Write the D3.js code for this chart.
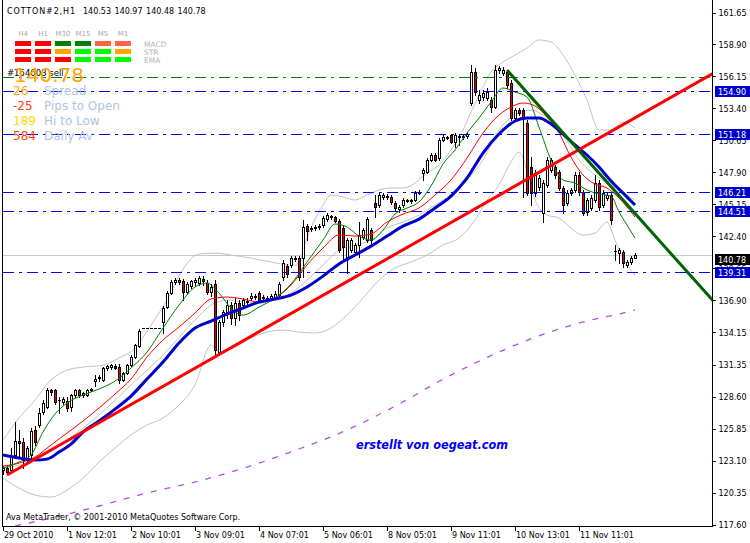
<!DOCTYPE html>
<html><head><meta charset="utf-8">
<script src="https://cdn.jsdelivr.net/npm/d3@7"></script>
<style>
body{margin:0;background:#fff}
svg{display:block}
text{font-family:"DejaVu Sans",sans-serif}
</style>
</head><body>
<svg id="c" width="750" height="543"></svg>
<script>
// ---------------- DATA ----------------
const symbolName = "COTTON#2,H1";
const headerOHLC = ["140.53", "140.97", "140.48", "140.78"];

const opens = [122.28,122.45,122.28,123.57,124.78,124.70,123.28,123.57,125.72,126.15,127.27,127.70,129.16,129.16,128.30,128.13,128.21,127.70,128.73,129.16,128.73,128.73,129.16,129.93,130.19,130.02,131.05,131.14,131.22,131.14,130.02,130.62,131.31,132.00,132.94,134.49,134.49,134.49,134.49,134.49,135.01,136.30,137.50,138.45,138.62,138.53,137.58,138.10,138.45,138.36,138.70,138.36,137.58,138.28,132.42,135.01,135.87,136.47,135.35,136.64,136.47,136.73,137.07,137.16,137.50,137.07,136.99,137.07,137.16,137.33,138.88,139.82,139.91,140.42,140.51,140.51,143.26,143.00,143.08,143.17,143.34,143.86,144.03,144.03,143.69,143.08,140.59,141.19,141.02,141.62,142.31,142.05,142.91,145.23,145.06,145.75,145.75,145.75,145.23,144.72,145.06,145.40,145.49,145.49,146.09,147.81,147.90,148.93,149.36,149.10,150.65,150.82,151.08,150.47,150.90,150.90,150.99,153.83,156.49,154.08,154.34,154.26,154.08,153.48,156.66,156.41,156.49,155.55,152.54,153.22,153.22,152.11,148.32,146.09,146.61,144.37,146.78,148.07,148.32,147.90,146.52,145.23,146.09,146.35,147.64,146.18,144.46,144.80,145.49,146.95,145.06,145.66,145.92,141.10,140.93,141.02,139.90,140.16,140.53];
const highs = [122.63,122.71,124.17,126.41,125.72,125.04,124.35,125.89,126.06,127.61,128.30,129.33,129.24,129.24,128.56,128.56,128.56,128.82,129.24,129.24,128.99,129.24,129.33,130.44,130.44,131.14,131.31,131.39,131.39,131.39,130.71,131.39,132.17,133.11,134.40,134.49,134.49,134.49,134.49,134.49,136.38,137.67,138.62,138.79,138.79,138.70,138.45,138.62,138.79,138.96,138.96,138.62,138.28,138.62,135.18,136.04,136.90,136.73,137.07,136.90,137.07,137.07,137.50,137.41,137.67,137.33,137.24,137.41,137.67,138.45,140.34,139.99,140.68,140.68,140.68,143.77,143.43,143.26,143.34,143.43,144.11,144.37,144.20,144.11,143.86,143.34,142.22,142.22,141.79,143.60,143.08,144.03,143.08,145.92,146.09,146.09,146.00,145.92,145.40,145.06,145.66,145.57,145.57,146.26,146.35,148.24,149.10,149.53,149.53,150.82,151.08,150.99,151.16,151.25,151.16,151.08,151.33,157.09,156.83,154.94,154.94,155.12,154.34,157.09,157.01,156.92,156.66,155.80,153.40,153.40,153.40,152.37,149.18,148.07,147.64,147.21,149.18,149.10,148.50,148.07,146.69,146.35,146.52,147.90,147.90,146.35,145.66,145.92,147.64,147.21,146.35,146.09,146.09,141.62,141.36,141.19,140.33,140.67,140.97];
const lows = [121.94,121.94,122.11,123.28,123.28,122.45,122.94,123.28,124.43,125.98,127.10,127.61,128.73,127.96,127.18,127.96,127.35,127.35,128.56,128.56,128.56,128.65,129.07,129.50,129.93,129.93,130.88,130.96,130.96,129.76,129.93,130.53,131.22,131.91,132.86,134.49,134.49,134.49,134.49,134.49,134.06,136.21,137.41,138.28,138.28,136.90,137.41,137.93,138.10,138.19,138.19,137.41,137.24,132.17,132.17,134.66,135.35,134.83,134.75,135.18,136.21,136.56,136.90,136.99,136.73,136.90,136.90,136.90,137.07,137.16,138.62,138.88,139.73,140.25,138.62,138.88,142.05,142.83,142.91,143.00,143.17,143.69,143.86,143.60,141.02,140.34,139.22,141.02,140.77,140.59,142.14,141.88,141.79,144.03,144.89,145.57,145.57,145.14,144.63,144.46,144.89,145.32,145.23,145.40,146.00,147.21,147.81,148.84,148.84,148.93,150.56,150.73,150.39,150.04,150.22,150.73,150.82,153.65,154.51,153.83,154.08,154.08,153.05,153.40,156.41,156.23,155.12,152.37,152.37,152.80,145.75,145.92,145.06,145.83,146.35,143.60,146.61,147.90,147.38,146.35,144.37,145.06,145.92,146.18,145.92,144.20,144.20,144.63,145.32,144.63,144.89,145.49,143.43,140.33,140.07,139.73,139.73,139.99,140.48];
const closes = [122.45,122.11,123.36,124.78,124.61,123.11,124.17,125.63,124.70,127.18,128.04,129.16,128.99,128.13,128.32,128.39,127.61,128.73,129.16,128.73,128.90,129.16,129.24,130.10,130.27,131.05,131.22,131.31,131.05,130.02,130.62,131.31,132.00,133.03,134.23,134.49,134.49,134.49,134.49,134.49,136.21,137.50,138.45,138.62,138.45,137.58,138.28,138.53,138.62,138.79,138.53,137.58,138.02,132.60,135.01,135.87,136.47,135.35,136.64,135.61,136.90,136.81,137.24,137.24,136.90,137.16,137.07,137.24,137.41,138.28,140.08,139.13,140.51,140.51,138.88,143.17,142.83,143.08,143.17,143.26,143.94,144.20,144.11,143.69,141.19,141.45,142.05,142.05,141.62,142.48,142.91,143.86,142.05,144.89,145.92,145.92,145.83,145.32,144.80,144.89,145.49,145.49,145.40,146.09,146.17,148.07,148.93,149.36,148.93,150.65,150.90,150.90,150.47,151.08,150.95,150.99,151.16,156.49,154.77,154.51,154.69,154.77,153.48,156.66,156.83,156.66,155.37,152.54,153.22,152.97,152.62,146.09,146.09,147.81,147.38,146.95,148.93,148.93,147.64,146.52,145.06,146.09,146.35,147.64,146.18,144.37,145.49,145.66,146.95,144.89,146.09,145.92,143.77,141.14,141.19,140.07,140.16,140.50,140.78];

// indicator lines: [bar index, price]
const emaFast = [[0,122.45],[4,122.97],[7,123.57],[10,125.55],[13,127.09],[16,128.04],[20,128.73],[24,129.24],[28,129.93],[32,131.05],[36,132.42],[40,134.49],[44,136.46],[48,138.01],[51,138.35],[54,137.49],[57,136.20],[60,135.60],[64,136.29],[68,137.06],[72,138.27],[76,140.16],[80,142.05],[83,143.43],[86,143.17],[89,142.39],[92,142.05],[95,142.91],[98,144.28],[101,144.80],[104,145.32],[107,146.69],[110,148.58],[113,149.79],[116,151.25],[119,152.54],[122,153.91],[125,155.12],[128,154.77],[131,154.34],[134,151.76],[137,148.93],[140,147.21],[143,146.95],[146,146.35],[149,146.00],[152,145.83],[154,144.46],[156,143.34],[158,142.22]];
const emaMid = [[0,122.62],[4,122.88],[8,123.40],[12,124.43],[16,125.46],[20,126.49],[24,127.61],[28,128.81],[32,130.10],[36,131.99],[40,133.45],[44,134.57],[48,135.77],[52,136.98],[56,137.15],[60,136.98],[64,136.72],[68,137.06],[72,138.18],[76,139.90],[80,141.36],[84,142.48],[88,142.39],[92,142.57],[96,143.60],[100,144.28],[104,144.80],[108,145.92],[112,147.21],[116,149.10],[120,151.25],[124,152.79],[127,153.48],[130,153.83],[133,153.57],[136,152.62],[139,151.25],[142,149.18],[145,147.64],[148,146.86],[151,146.52],[154,145.66],[156,144.89],[158,144.03]];
const emaSlow = [[0,123.57],[4,123.31],[8,123.14],[11,123.22],[14,123.83],[17,124.51],[20,125.55],[24,126.49],[28,127.52],[32,128.64],[36,130.10],[40,131.56],[44,133.20],[48,134.49],[52,135.09],[56,135.69],[60,136.20],[64,136.72],[68,136.98],[72,137.32],[76,138.01],[80,138.95],[84,139.99],[88,140.76],[92,141.53],[96,142.39],[100,143.25],[104,143.85],[108,144.80],[112,145.83],[116,147.38],[120,149.53],[124,151.16],[128,152.28],[131,152.54],[134,152.54],[137,152.02],[140,151.16],[143,150.22],[146,149.36],[149,148.32],[152,147.12],[155,146.09],[158,145.06]];
const bandUpper = [[0,124.86],[4,126.75],[8,128.30],[12,130.02],[16,130.87],[20,131.13],[25,131.30],[29,131.91],[33,132.77],[37,134.74],[41,136.89],[45,139.55],[49,140.85],[53,140.93],[57,140.76],[62,140.50],[67,140.16],[72,139.90],[74,139.90],[75,141.19],[77,143.08],[80,145.06],[82,145.92],[85,145.75],[88,145.49],[91,145.92],[94,146.35],[97,146.52],[100,146.52],[103,146.95],[106,147.81],[109,148.50],[112,149.79],[115,151.51],[117,153.05],[119,154.51],[122,156.49],[125,157.35],[128,157.95],[131,158.55],[134,159.24],[137,159.07],[140,157.95],[143,156.23],[146,154.08],[149,151.51],[152,151.51],[155,152.19],[158,151.68]];
const bandMiddle = [[0,122.45],[8,123.14],[16,124.86],[24,127.01],[32,129.59],[40,132.17],[48,135.17],[52,136.46],[56,136.89],[60,136.72],[64,136.63],[68,136.89],[72,137.49],[76,138.61],[80,139.90],[84,141.19],[88,141.62],[92,142.05],[96,143.08],[100,143.60],[104,144.20],[108,145.06],[112,145.92],[116,147.21],[120,148.93],[124,151.51],[128,152.79],[132,153.22],[136,152.54],[140,151.08],[144,148.93],[148,147.64],[152,146.78],[156,145.92],[158,145.49]];
const bandLower = [[0,121.59],[4,120.73],[8,120.13],[12,119.96],[16,120.56],[20,121.59],[24,122.97],[28,124.17],[32,125.29],[36,126.15],[40,126.75],[44,127.87],[48,129.59],[52,133.02],[54,132.42],[58,132.85],[62,133.63],[66,134.14],[70,134.31],[74,134.14],[78,134.06],[82,134.49],[86,135.60],[90,137.06],[94,138.61],[98,139.64],[102,140.16],[106,140.76],[110,141.62],[114,142.22],[118,143.77],[121,145.49],[124,146.78],[127,148.76],[129,149.61],[131,148.07],[133,145.49],[136,144.20],[139,143.94],[142,143.08],[145,142.48],[148,142.65],[151,143.60],[153,142.05],[155,140.50],[158,139.04]];
const maLong = [[3,117.47],[14,118.32],[24,119.19],[36,120.31],[49,121.34],[61,122.54],[74,124.09],[86,125.72],[99,127.95],[111,130.27],[124,132.42],[136,134.06],[147,135.17],[155,135.77],[158,136.03]];

// drawn objects
const trendUp = [[1,121.85],[150,150.99]];
const trendDown = [[126,156.66],[150,147.42]];
const levelLines = [154.90, 151.18, 146.21, 144.51, 139.31];
const levelGreen = 156.05;
const bidPrice = 140.78;

// axes
const xTickBars = [0,16,32,48,64,80,96,112,128,144];
const xTickLabels = ["29 Oct 2010","1 Nov 12:01","2 Nov 10:01","3 Nov 09:01","4 Nov 07:01","5 Nov 06:01","8 Nov 05:01","9 Nov 11:01","10 Nov 13:01","11 Nov 11:01"];
const yTickValues = [161.65,158.90,156.15,153.40,150.65,147.90,145.15,142.40,139.65,136.90,134.15,131.35,128.60,125.85,123.10,120.35,117.60];

// info panel
const timeframes = ["H4","H1","M30","M15","M5","M1"];
const signalNames = ["MACD","STR","EMA"];
const signalStates = [
  ["sell","sell","buy","buy","weakSell","weakSell"],
  ["sell","sell","neutral","strongBuy","strongBuy","neutral"],
  ["sell","sell","sell","strongBuy","strongBuy","strongBuy"]
];
const tradeLabel = "#154603 sell";
const infoValues = ["26","-25","189","584"];
const infoNames = ["Spread","Pips to Open","Hi to Low","Daily Av"];
const watermark = "erstellt von oegeat.com";
const copyright = "Ava MetaTrader, \u00A9 2001-2010 MetaQuotes Software Corp.";

// ---------------- DRAW ----------------
const svg = d3.select("#c");
const W = 750, H = 543, R = 712, B = 526;
const x = d3.scaleLinear().domain([0, 158]).range([3, 635]);
const y = d3.scaleLinear().domain([117.6, 161.65]).range([524.5, 12]);
const X = i => Math.round(x(i));
const Y = p => Math.round(y(p));

svg.append("rect").attr("width", W).attr("height", H).attr("fill", "#fff");
svg.append("defs").append("clipPath").attr("id", "clip")
  .append("rect").attr("x", 3).attr("y", 0).attr("width", R - 3).attr("height", B);
const plot = svg.append("g").attr("clip-path", "url(#clip)");

// bid line
plot.append("line").attr("x1", 3).attr("x2", R).attr("y1", Y(bidPrice) + 0.5).attr("y2", Y(bidPrice) + 0.5)
  .attr("stroke", "#c8c8c8").attr("shape-rendering", "crispEdges");

const line = d3.line().x(d => x(d[0])).y(d => y(d[1])).curve(d3.curveMonotoneX);

// bands & long MA
[bandUpper, bandMiddle, bandLower].forEach(s => {
  plot.append("path").attr("d", line(s)).attr("fill", "none").attr("stroke", "#c4c4c4").attr("stroke-width", 1);
});
plot.append("path").attr("d", line(maLong)).attr("fill", "none").attr("stroke", "#b84fd8")
  .attr("stroke-width", 1.3).attr("stroke-dasharray", "6,8");

// candles
const bars = d3.range(closes.length).map(i => ({i, o: opens[i], h: highs[i], l: lows[i], c: closes[i]}));
const cg = plot.append("g").attr("shape-rendering", "crispEdges");
cg.selectAll("line.w").data(bars).join("line").attr("class", "w")
  .attr("x1", d => X(d.i) + 0.5).attr("x2", d => X(d.i) + 0.5)
  .attr("y1", d => Y(d.h)).attr("y2", d => Y(d.l) + 1)
  .attr("stroke", "#000");
bars.forEach(d => {
  const top = Y(Math.max(d.o, d.c)), bot = Y(Math.min(d.o, d.c));
  const xc = X(d.i);
  if (bot - top < 1) {
    cg.append("line").attr("x1", xc - 1).attr("x2", xc + 2).attr("y1", top + 0.5).attr("y2", top + 0.5).attr("stroke", "#000");
  } else {
    cg.append("rect").attr("x", xc - 0.5).attr("y", top + 0.5).attr("width", 2).attr("height", bot - top)
      .attr("fill", d.c >= d.o ? "#fff" : "#e00000").attr("stroke", "#000");
  }
});

// moving averages
plot.append("path").attr("d", line(emaMid)).attr("fill", "none").attr("stroke", "#ff0000").attr("stroke-width", 1);
plot.append("path").attr("d", line(emaFast)).attr("fill", "none").attr("stroke", "#008000").attr("stroke-width", 1);
plot.append("path").attr("d", line(emaSlow)).attr("fill", "none").attr("stroke", "#0000cd").attr("stroke-width", 3);

// horizontal levels
const hg = plot.append("g").attr("shape-rendering", "crispEdges");
levelLines.forEach(v => {
  hg.append("line").attr("x1", 3).attr("x2", R).attr("y1", Y(v) + 0.5).attr("y2", Y(v) + 0.5)
    .attr("stroke", "#0000ff").attr("stroke-dasharray", "11,5,3,5");
});
hg.append("line").attr("x1", 3).attr("x2", R).attr("y1", Y(levelGreen) + 0.5).attr("y2", Y(levelGreen) + 0.5)
  .attr("stroke", "#008000").attr("stroke-dasharray", "11,5,3,5");

// trend lines (rays to right edge)
function ray(pts) {
  const [a, b] = pts;
  const xe = x.invert(R + 2);
  const pe = a[1] + (b[1] - a[1]) * (xe - a[0]) / (b[0] - a[0]);
  return [[x(a[0]), y(a[1])], [R + 2, y(pe)]];
}
plot.append("path").attr("d", d3.line()(ray(trendUp))).attr("stroke", "#ff0000").attr("stroke-width", 3).attr("fill", "none");
plot.append("path").attr("d", d3.line()(ray(trendDown))).attr("stroke", "#006400").attr("stroke-width", 3).attr("fill", "none");

// frame
const fg = svg.append("g").attr("shape-rendering", "crispEdges").attr("stroke", "#000");
fg.append("line").attr("x1", 2.5).attr("x2", 2.5).attr("y1", 0).attr("y2", B + 1);
fg.append("line").attr("x1", 2).attr("x2", R + 1).attr("y1", B + 0.5).attr("y2", B + 0.5);
fg.append("line").attr("x1", R + 0.5).attr("x2", R + 0.5).attr("y1", 0).attr("y2", B + 1);

// y axis
const yAx = svg.append("g").attr("transform", `translate(${R + 0.5},0.5)`)
  .call(d3.axisRight(y).tickValues(yTickValues).tickFormat(d3.format(".2f")).tickSize(3).tickPadding(3));
yAx.select(".domain").remove();
yAx.selectAll("line").attr("stroke", "#000").attr("shape-rendering", "crispEdges");
yAx.selectAll("text").attr("font-family", "DejaVu Sans").attr("font-size", 8).attr("fill", "#000");

// x axis
const xAx = svg.append("g").attr("transform", `translate(-0.5,${B + 0.5})`)
  .call(d3.axisBottom(x).tickValues(xTickBars).tickFormat((d, i) => xTickLabels[i]).tickSize(4).tickPadding(2));
xAx.select(".domain").remove();
xAx.selectAll("line").attr("stroke", "#000").attr("shape-rendering", "crispEdges");
xAx.selectAll("text").attr("font-family", "DejaVu Sans").attr("font-size", 8).attr("fill", "#000")
  .attr("text-anchor", "start").attr("x", 1);

// price boxes
levelLines.forEach(v => {
  const yy = Y(v);
  svg.append("rect").attr("x", 715).attr("y", yy - 5).attr("width", 35).attr("height", 11).attr("fill", "#0000cd");
  svg.append("text").attr("x", 718).attr("y", yy + 4).attr("font-size", 8).attr("fill", "#fff").text(v.toFixed(2));
});
{
  const yy = Y(bidPrice);
  svg.append("rect").attr("x", 715).attr("y", yy - 1).attr("width", 35).attr("height", 11).attr("fill", "#000");
  svg.append("text").attr("x", 718).attr("y", yy + 8).attr("font-size", 8).attr("fill", "#fff").text(bidPrice.toFixed(2));
}

// header
svg.append("text").attr("x", 7).attr("y", 13.5).attr("font-size", 8).attr("textLength", 68).attr("lengthAdjust", "spacing").text(symbolName);
svg.append("text").attr("x", 83).attr("y", 13.5).attr("font-size", 8).attr("word-spacing", 1).text(headerOHLC.join(" "));

// signal panel
const sigColor = {sell: "#ff0000", buy: "#008000", weakSell: "#ff6347", neutral: "#ffa500", strongBuy: "#00ff00"};
timeframes.forEach((t, k) => {
  svg.append("text").attr("x", 23 + 20 * k).attr("y", 36).attr("text-anchor", "middle")
    .attr("font-size", 7).attr("fill", "#a8a8a8").text(t);
});
signalStates.forEach((row, r) => {
  row.forEach((s, k) => {
    svg.append("rect").attr("x", 15 + 20 * k).attr("y", 41 + 8 * r).attr("width", 16).attr("height", 5).attr("fill", sigColor[s]);
  });
  svg.append("text").attr("x", 144).attr("y", 46.5 + 8 * r).attr("font-size", 7.5).attr("fill", "#b4b4b4").text(signalNames[r]);
});

svg.append("text").attr("x", 7).attr("y", 76).attr("font-size", 8.5).attr("fill", "#000").text(tradeLabel);
svg.append("text").attr("x", 14).attr("y", 82).attr("font-family", "Liberation Sans").attr("font-size", 20)
  .attr("fill", "#ffa500").text(bidPrice.toFixed(2));

const infoColors = ["#ffa500", "#ff4500", "#ffd700", "#ff4500"];
infoValues.forEach((v, k) => {
  svg.append("text").attr("x", 13).attr("y", 95 + 15 * k).attr("font-family", "Liberation Sans").attr("font-size", 12)
    .attr("fill", infoColors[k]).text(v);
  svg.append("text").attr("x", 44).attr("y", 95 + 15 * k).attr("font-family", "Liberation Sans").attr("font-size", 12)
    .attr("fill", "#b0c4de").text(infoNames[k]);
});

svg.append("text").attr("x", 356).attr("y", 449).attr("font-family", "Liberation Sans").attr("font-size", 12)
  .attr("font-weight", "bold").attr("font-style", "italic").attr("fill", "#0000ff")
  .attr("textLength", 152).attr("lengthAdjust", "spacingAndGlyphs").text(watermark);
svg.append("text").attr("x", 6).attr("y", 520).attr("font-size", 8).attr("fill", "#000").text(copyright);
</script>
</body></html>
